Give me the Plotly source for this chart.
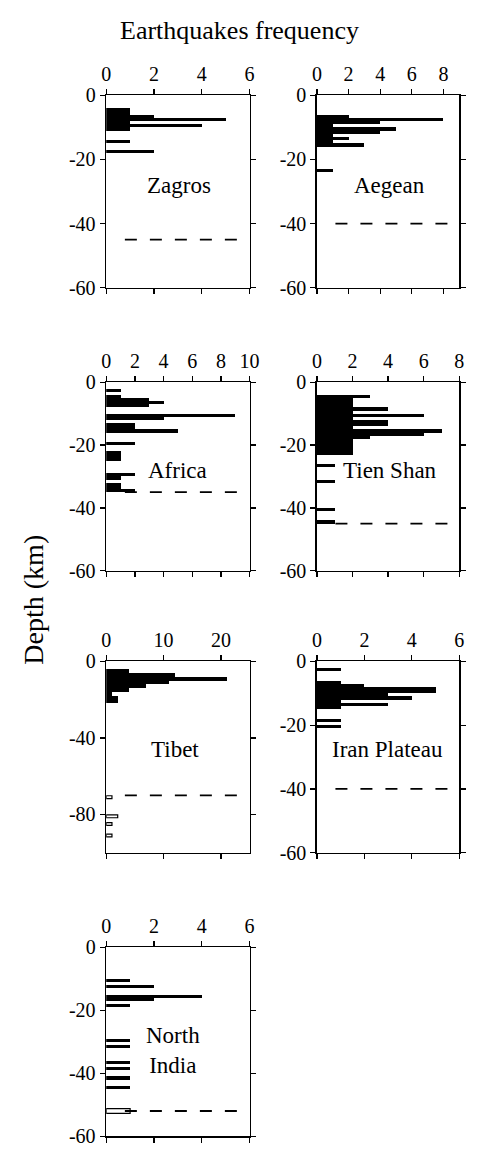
import plotly.graph_objects as go

# ---------------- data (depth of bin top in km, number of earthquakes) ----------------
regions = ["Zagros", "Aegean", "Africa", "Tien Shan", "Tibet", "Iran Plateau", "North India"]

zagros_depth = [4, 5, 6, 7, 8, 9, 10, 14, 17]
zagros_count = [1, 1, 2, 5, 1, 4, 1, 1, 2]

aegean_depth = [6, 7, 8, 9, 10, 11, 12, 13, 14, 15, 23]
aegean_count = [2, 8, 4, 1, 5, 4, 1, 2, 1, 3, 1]

africa_depth = [2, 4, 5, 6, 7, 10, 11, 13, 14, 15, 19, 22, 23, 24, 29, 30, 32, 33, 34]
africa_count = [1, 1, 3, 4, 3, 9, 4, 2, 2, 5, 2, 1, 1, 1, 2, 1, 1, 1, 2]

tienshan_depth = [4, 5, 6, 7, 8, 9, 10, 11, 12, 13, 14, 15, 16, 17, 18, 19, 20, 21, 22, 26, 31, 40, 44]
tienshan_count = [3, 2, 2, 2, 4, 2, 6, 2, 4, 4, 2, 7, 6, 3, 2, 2, 2, 2, 2, 1, 1, 1, 1]

tibet_depth = [4, 6, 8, 10, 12, 14, 16, 18, 20]          # 2-km bins
tibet_count = [4, 12, 21, 11, 7, 4, 1, 2, 2]
tibet_open_depth = [70, 80, 84, 90]                       # mantle events (open bars)
tibet_open_count = [1, 2, 1, 1]

iran_depth = [2, 6, 7, 8, 9, 10, 11, 12, 13, 14, 18, 20]
iran_count = [1, 1, 2, 5, 5, 3, 4, 1, 3, 1, 1, 1]

nindia_depth = [10, 12, 15, 16, 18, 29, 31, 36, 38, 41, 44]
nindia_count = [1, 2, 4, 2, 1, 1, 1, 1, 1, 1, 1]
nindia_open_depth = [51]
nindia_open_count = [1]

bin_km = [1, 1, 1, 1, 2, 1, 1]
moho_km = [45, 40, 35, 45, 70, 40, 52]

x_max = [6, 9, 10, 8, 25, 6, 6]
x_ticks = [[0, 2, 4, 6], [0, 2, 4, 6, 8], [0, 2, 4, 6, 8, 10], [0, 2, 4, 6, 8],
           [0, 10, 20], [0, 2, 4, 6], [0, 2, 4, 6]]
y_min = [-60, -60, -60, -60, -100, -60, -60]
y_ticks = [[0, -20, -40, -60]] * 4 + [[0, -40, -80]] + [[0, -20, -40, -60]] * 2
y_ticktext = [["0", "-20", "-40", "-60"]] * 4 + [["0", "-40", "-80"]] + [["0", "-20", "-40", "-60"]] * 2

filled = [(zagros_depth, zagros_count), (aegean_depth, aegean_count),
          (africa_depth, africa_count), (tienshan_depth, tienshan_count),
          (tibet_depth, tibet_count), (iran_depth, iran_count),
          (nindia_depth, nindia_count)]
open_bars = {4: (tibet_open_depth, tibet_open_count, 2),
             6: (nindia_open_depth, nindia_open_count, 2)}

# ---------------- layout geometry (page pixels) ----------------
W, H = 479, 1157
col_px = [(104.5, 252.5), (322.0, 469.0)]
row_px = [(86, 282), (378.5, 570.5), (663, 858), (954.5, 1147)]
cells = [(0, 0), (0, 1), (1, 0), (1, 1), (2, 0), (2, 1), (3, 0)]
label_px = [(180, 178), (397, 178), (178, 468), (397, 468), (175, 753), (395, 753), (173, 1060)]


def fx(px):
    return px / W


def fy(py):
    return 1 - py / H


FONT = "Liberation Serif, Times New Roman, serif"

fig = go.Figure()
layout = dict(width=W, height=H, margin=dict(l=0, r=0, t=0, b=0),
              paper_bgcolor="white", plot_bgcolor="white", showlegend=False,
              bargap=0, barmode="overlay", font=dict(family=FONT, size=20, color="black"))
annotations = []
shapes = []

for i, (r, c) in enumerate(cells):
    n = "" if i == 0 else str(i + 1)
    xa, ya = "x" + n, "y" + n
    d, cnt = filled[i]
    b = bin_km[i]
    fig.add_trace(go.Bar(x=cnt, y=[-(v + b / 2) for v in d], width=b, orientation="h",
                         marker=dict(color="black", line=dict(width=0)),
                         xaxis=xa, yaxis=ya))
    if i in open_bars:
        od, oc, ob = open_bars[i]
        fig.add_trace(go.Bar(x=oc, y=[-(v + ob / 2) for v in od], width=ob * 0.75, orientation="h",
                             marker=dict(color="white", line=dict(width=1.2, color="black")),
                             xaxis=xa, yaxis=ya))
    x0, x1 = col_px[c]
    y0, y1 = row_px[r]
    common = dict(ticks="outside", ticklen=5, tickwidth=1.3, tickcolor="black",
                  showline=True, linecolor="black", linewidth=1.6, mirror="ticks",
                  showgrid=False, zeroline=False, fixedrange=True,
                  tickfont=dict(family=FONT, size=20, color="black"))
    layout["xaxis" + n] = dict(domain=[fx(x0), fx(x1)], anchor=ya, side="top",
                              range=[0, x_max[i]], tickvals=x_ticks[i], **common)
    layout["yaxis" + n] = dict(domain=[fy(y1), fy(y0)], anchor=xa,
                              range=[y_min[i], 0], tickvals=y_ticks[i], ticktext=y_ticktext[i],
                              **common)
    shapes.append(dict(type="line", xref=xa + " domain", yref=ya, x0=0.13, x1=0.97,
                       y0=-moho_km[i], y1=-moho_km[i],
                       line=dict(color="black", width=1.8, dash="12px,13px")))
    lx, ly = label_px[i]
    txt = "North<br>India" if regions[i] == "North India" else regions[i]
    annotations.append(dict(text=txt, x=fx(lx), y=fy(ly), xref="paper", yref="paper",
                            showarrow=False, font=dict(family=FONT, size=23, color="black"),
                            xanchor="center", yanchor="middle"))

annotations.append(dict(text="Earthquakes frequency", x=fx(242), y=fy(20), xref="paper", yref="paper",
                        showarrow=False, font=dict(family=FONT, size=26, color="black"),
                        xanchor="center", yanchor="middle"))
annotations.append(dict(text="Depth (km)", x=fx(30), y=fy(600), xref="paper", yref="paper",
                        showarrow=False, textangle=-90, font=dict(family=FONT, size=28, color="black"),
                        xanchor="center", yanchor="middle"))
layout["annotations"] = annotations
layout["shapes"] = shapes
fig.update_layout(**layout)

reset_page = ("document.documentElement.style.margin='0';document.body.style.margin='0';"
              "document.documentElement.style.overflow='hidden';document.body.style.overflow='hidden';")
fig.write_html("out.html", post_script=reset_page, config={"displayModeBar": False, "staticPlot": True})
